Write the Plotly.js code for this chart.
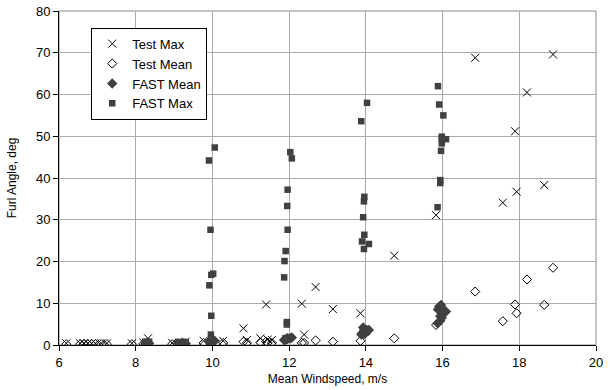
<!DOCTYPE html>
<html><head><meta charset="utf-8">
<script src="https://cdn.plot.ly/plotly-3.0.1.min.js"></script>
<style>html,body{margin:0;padding:0;background:#fff}#c{width:610px;height:390px}</style>
</head><body><div id="c"></div>
<script>
// Test runs: mean windspeed, max furl, mean furl
const testWind = [6.19,6.55,6.65,6.75,6.85,6.95,7.1,7.25,7.9,8.2,8.32,8.95,9.15,9.3,9.77,10.28,10.81,10.9,11.25,11.4,11.44,11.55,12.33,12.39,12.69,13.14,13.86,14.74,15.83,16.85,17.57,17.89,17.93,18.2,18.65,18.88];
const testMax  = [0.4,0.4,0.4,0.4,0.4,0.4,0.4,0.4,0.4,0.6,1.6,0.5,0.6,0.8,1.0,1.0,4.0,1.2,1.6,9.7,1.3,1.2,9.9,2.5,13.9,8.6,7.6,21.4,31.1,68.8,34.1,51.2,36.7,60.5,38.3,69.6];
const testMean = [0.2,0.2,0.2,0.2,0.2,0.2,0.2,0.2,0.2,0.3,0.4,0.2,0.3,0.3,0.5,0.5,0.8,0.5,0.6,0.8,0.5,0.5,0.5,0.5,1.1,0.8,1.0,1.6,4.8,12.8,5.7,9.7,7.6,15.7,9.6,18.5];
// FAST simulations: mean windspeed, max furl, mean furl
const fastWind = [8.25,8.35,9.1,9.2,9.3,
  10.06,9.91,9.95,10.02,9.97,9.92,9.97,9.96,10.0,
  12.03,12.07,11.96,11.95,11.96,11.91,11.88,11.87,11.94,11.94,11.9,
  14.03,13.88,13.96,13.95,13.93,13.96,13.9,14.08,13.95,13.95,14.0,
  15.88,15.91,16.02,15.98,15.98,16.09,15.98,15.96,15.94,15.94,15.87];
const fastMax = [0.8,0.8,0.7,0.7,0.7,
  47.3,44.2,27.6,17.1,16.8,14.3,7.0,2.5,1.2,
  46.2,44.7,37.2,33.3,27.6,22.5,20.1,16.2,5.5,4.9,1.6,
  58.0,53.6,35.5,34.4,30.6,26.4,24.8,24.2,23.0,4.0,3.0,
  62.0,57.6,55.0,49.9,49.5,49.3,48.3,46.5,39.5,38.8,33.0];
const fastMean = [0.4,0.4,0.4,0.4,0.4,
  1.0,0.8,0.9,1.1,0.9,0.8,1.0,0.7,1.0,
  1.6,1.8,1.5,1.4,1.6,1.3,1.2,1.2,1.5,1.4,1.3,
  3.5,2.5,3.8,3.0,4.2,3.2,2.8,3.6,2.6,3.3,2.9,
  8.5,9.2,7.8,8.9,7.3,8.0,6.5,9.6,5.8,6.9,5.2];
const seriesNames = ["Test Max","Test Mean","FAST Mean","FAST Max"];
const xTicks = [6,8,10,12,14,16,18,20];
const yTicks = [0,10,20,30,40,50,60,70,80];

const dark = '#404040';
const traces = [
  {x:testWind,y:testMax,name:seriesNames[0],mode:'markers',type:'scatter',
   marker:{symbol:'x-thin-open',size:8,color:'#000',line:{color:'#000',width:1}}},
  {x:testWind,y:testMean,name:seriesNames[1],mode:'markers',type:'scatter',
   marker:{symbol:'diamond-open',size:7,color:'#000',line:{color:'#000',width:1}}},
  {x:fastWind,y:fastMean,name:seriesNames[2],mode:'markers',type:'scatter',
   marker:{symbol:'diamond',size:8,color:dark}},
  {x:fastWind,y:fastMax,name:seriesNames[3],mode:'markers',type:'scatter',
   marker:{symbol:'square',size:6.5,color:dark}}
];
const layout = {
  width:610,height:390,
  margin:{l:58.5,r:14,t:10.7,b:44.7},
  paper_bgcolor:'#fff',plot_bgcolor:'#fff',
  font:{family:'Liberation Sans, Arial, sans-serif',size:13,color:'#000'},
  showlegend:true,
  legend:{x:0.06,y:0.95,xanchor:'left',yanchor:'top',bgcolor:'#fff',bordercolor:'#000',borderwidth:1,
    font:{size:13},tracegroupgap:0,itemwidth:30},
  xaxis:{range:[6,20],tickvals:xTicks,ticktext:xTicks.map(String),showgrid:true,gridcolor:'#aaaaaa',gridwidth:1,
    zeroline:false,showline:true,linecolor:'#000',linewidth:1,ticks:'outside',ticklen:5,tickcolor:'#000',
    title:{text:'Mean Windspeed, m/s',font:{size:12},standoff:6},tickfont:{size:13}},
  yaxis:{range:[0,80],tickvals:yTicks,ticktext:yTicks.map(String),showgrid:true,gridcolor:'#aaaaaa',gridwidth:1,
    zeroline:false,showline:true,linecolor:'#000',linewidth:1,ticks:'outside',ticklen:5,tickcolor:'#000',
    title:{text:'Furl Angle, deg',font:{size:12},standoff:16},tickfont:{size:13}},
  shapes:[{type:'rect',xref:'paper',yref:'paper',x0:0,x1:1,y0:0,y1:1,line:{color:'#888',width:1},layer:'below'}]
};
Plotly.newPlot('c',traces,layout,{staticPlot:true});
</script></body></html>
